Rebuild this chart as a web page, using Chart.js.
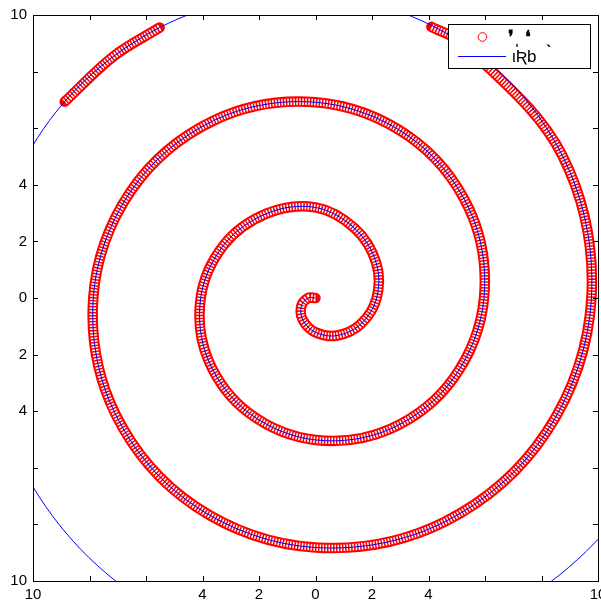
<!DOCTYPE html>
<html lang="en">
<head>
<meta charset="UTF-8" />
<title>Spiral</title>
<script src="https://cdn.jsdelivr.net/npm/chart.js"></script>
<style>
  html, body { margin: 0; padding: 0; background: #fff; }
</style>
</head>
<body>
<canvas id="myChart" width="601" height="603"></canvas>
<script>
// blue curve, points every 30 degrees
const fitX = [0, -0.264, -0.503, -0.449, 0, 0.766, 1.600, 2.165, 2.149, 1.399, 0, -1.716, -3.246, -4.065, -3.795, -2.350, 0, 2.666, 4.892, 5.966, 5.441, 3.300, 0, -3.617, -6.538, -7.867, -7.087, -4.250, 0, 4.567, 8.184, 9.767, 8.733, 5.201, 0, -5.517, -9.830, -11.668, -10.379, -6.151, 0, 6.468, 11.477, 13.568];
const fitY = [0, 0, -0.291, -0.778, -1.214, -1.326, -0.924, 0, 1.241, 2.45, 3.2, 2.99, 1.874, 0, -2.191, -4.069, -5.015, -4.618, -2.825, 0, 3.142, 5.715, 6.916, 6.264, 3.775, 0, -4.092, -7.361, -8.817, -7.910, -4.725, 0, 5.042, 9.008, 10.718, 9.556, 5.676, 0, -5.993, -10.653, -12.618, -11.202, -6.626, 0];

// red circles: inner run up to the top right, then a short run top left
const dataX1 = [0, -0.264, -0.503, -0.449, 0, 0.766, 1.600, 2.165, 2.149, 1.399, 0, -1.716, -3.246, -4.065, -3.795, -2.350, 0, 2.666, 4.892, 5.966, 5.441, 3.300, 0, -3.617, -6.538, -7.867, -7.087, -4.250, 0, 4.567, 8.184, 9.767, 8.733, 5.201, 4.10];
const dataY1 = [0, 0, -0.291, -0.778, -1.214, -1.326, -0.924, 0, 1.241, 2.45, 3.2, 2.99, 1.874, 0, -2.191, -4.069, -5.015, -4.618, -2.825, 0, 3.142, 5.715, 6.916, 6.264, 3.775, 0, -4.092, -7.361, -8.817, -7.910, -4.725, 0, 5.042, 9.008, 9.58];
const dataX2 = [-5.517, -7.161, -8.878];
const dataY2 = [9.556, 8.533, 6.936];

const tickValues = [-10, -8, -6, -4, -2, 0, 2, 4, 6, 8, 10];
const xTickLabels = ['10', '', '', '4', '2', '0', '2', '4', '', '', '10'];
const yTickLabels = ['10', '', '', '4', '2', '0', '2', '4', '', '', '10'];
const legendLabels = ['\u275C\u02CC \u275B   \u02CE', '\u03B9\u01A6b'];

const RED = '#ff0000';
const BLUE = '#0000ff';
const FONT = 'Liberation Sans, Arial, sans-serif';

function pts(xs, ys) {
  return xs.map((x, i) => ({ x: x, y: ys[i] }));
}

// red circles are packed so close they form a band with white gaps inside
function band(xs, ys) {
  return {
    data: pts(xs, ys), showLine: true, pointRadius: 0,
    borderColor: RED, borderWidth: 10.5, borderCapStyle: 'round',
    tension: 0.35, order: 2, clip: 0
  };
}
function gaps(xs, ys) {
  return {
    data: pts(xs, ys), showLine: true, pointRadius: 0,
    borderColor: '#ffffff', borderWidth: 6.5, borderDash: [1.5, 1.5],
    tension: 0.35, order: 1, clip: 0
  };
}

// frame, inward tick marks and legend box
const framePlugin = {
  id: 'frame',
  afterDraw(chart) {
    const ctx = chart.ctx;
    const a = chart.chartArea;
    const xs = chart.scales.x, ys = chart.scales.y;
    ctx.save();
    ctx.strokeStyle = '#000';
    ctx.lineWidth = 1;
    ctx.strokeRect(Math.round(a.left) + 0.5, Math.round(a.top) + 0.5,
      Math.round(a.right - a.left), Math.round(a.bottom - a.top));
    ctx.beginPath();
    tickValues.forEach(v => {
      const px = Math.round(xs.getPixelForValue(v)) + 0.5;
      ctx.moveTo(px, a.bottom); ctx.lineTo(px, a.bottom - 5);
      ctx.moveTo(px, a.top); ctx.lineTo(px, a.top + 5);
      const py = Math.round(ys.getPixelForValue(v)) + 0.5;
      ctx.moveTo(a.left, py); ctx.lineTo(a.left + 5, py);
      ctx.moveTo(a.right, py); ctx.lineTo(a.right - 5, py);
    });
    ctx.stroke();

    // legend
    const lx = 448.5, ly = 24.5, lw = 142, lh = 44;
    ctx.fillStyle = '#fff';
    ctx.fillRect(lx, ly, lw, lh);
    ctx.strokeRect(lx, ly, lw, lh);
    ctx.strokeStyle = RED;
    ctx.beginPath();
    ctx.arc(482.5, 37, 4.3, 0, Math.PI * 2);
    ctx.stroke();
    ctx.strokeStyle = BLUE;
    ctx.beginPath();
    ctx.moveTo(458, 56.5); ctx.lineTo(506, 56.5);
    ctx.stroke();
    ctx.fillStyle = '#000';
    ctx.textBaseline = 'middle';
    ctx.textAlign = 'left';
    ctx.font = 'bold 18px ' + FONT;
    ctx.fillText(legendLabels[0], 508, 38);
    ctx.font = '17px ' + FONT;
    ctx.fillText(legendLabels[1], 512, 57);
    ctx.restore();
  }
};

const ctx = document.getElementById('myChart').getContext('2d');
new Chart(ctx, {
  type: 'scatter',
  data: {
    datasets: [
      {
        data: pts(fitX, fitY), showLine: true, pointRadius: 0,
        borderColor: BLUE, borderWidth: 1, tension: 0.35, order: 0, clip: 0
      },
      gaps(dataX1, dataY1),
      gaps(dataX2, dataY2),
      band(dataX1, dataY1),
      band(dataX2, dataY2)
    ]
  },
  options: {
    responsive: false,
    animation: false,
    devicePixelRatio: 1,
    layout: { padding: { top: 15, right: 3, bottom: 0, left: 0 } },
    elements: { line: { capBezierPoints: false } },
    plugins: { legend: { display: false }, tooltip: { enabled: false } },
    scales: {
      x: {
        type: 'linear', position: 'bottom', min: -10, max: 10,
        grid: { display: false, drawTicks: false },
        border: { display: false },
        afterBuildTicks: s => { s.ticks = tickValues.map(v => ({ value: v })); },
        ticks: {
          autoSkip: false, maxRotation: 0, padding: 5, color: '#000',
          font: { family: FONT, size: 15 },
          callback: (v, i) => xTickLabels[i]
        },
        afterFit: s => { s.height = 22; s.paddingLeft = 0; s.paddingRight = 0; }
      },
      y: {
        type: 'linear', position: 'left', min: -10, max: 10,
        grid: { display: false, drawTicks: false },
        border: { display: false },
        afterBuildTicks: s => { s.ticks = tickValues.map(v => ({ value: v })); },
        ticks: {
          autoSkip: false, padding: 6, color: '#000',
          font: { family: FONT, size: 15 },
          callback: (v, i) => yTickLabels[i]
        },
        afterFit: s => { s.width = 33; s.paddingTop = 0; s.paddingBottom = 0; }
      }
    }
  },
  plugins: [framePlugin]
});
</script>
</body>
</html>
